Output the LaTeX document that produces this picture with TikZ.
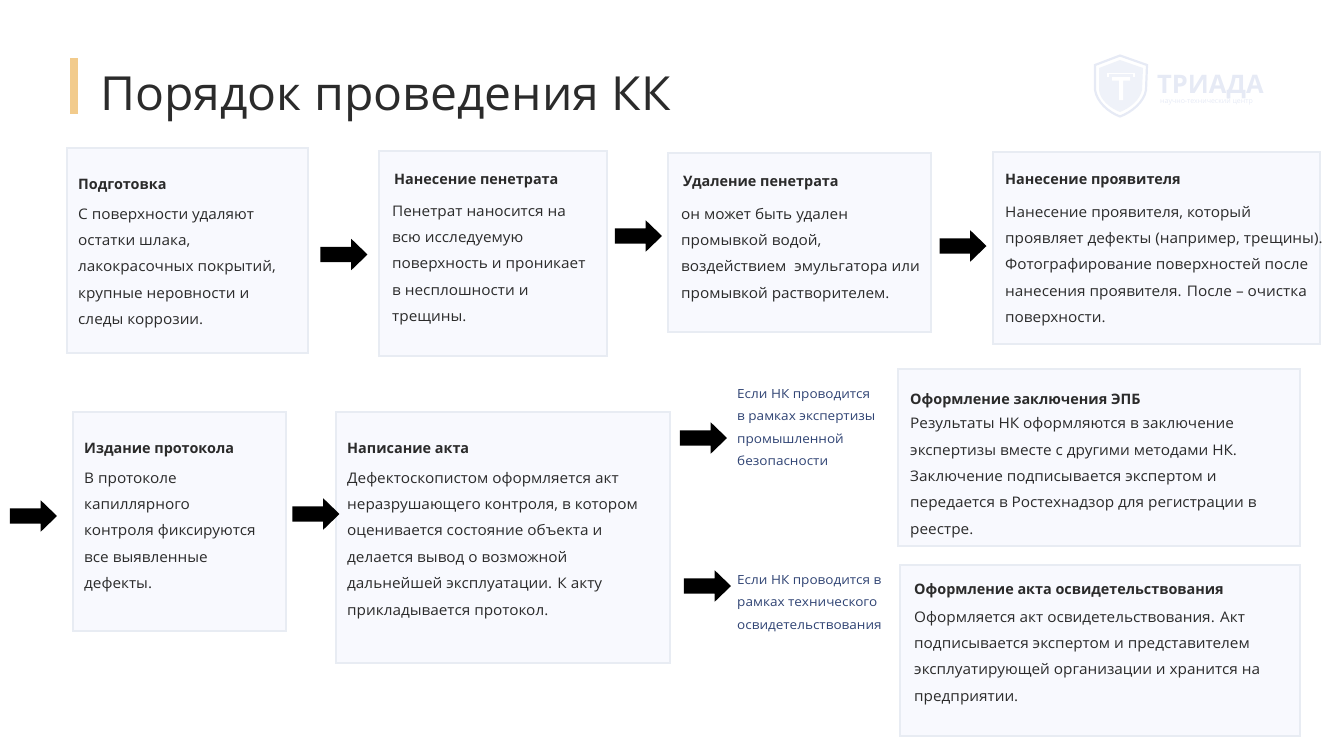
\documentclass[tikz,border=0pt]{standalone}
\usepackage{fontspec}
\setmainfont{Open Sans}
\newfontfamily\bodyfont[FakeStretch=1.05]{Open Sans}
\newfontfamily\sidefont[FakeStretch=1.075]{Open Sans}
\newfontfamily\titlefont[FakeStretch=1.023]{Open Sans}
\usetikzlibrary{shapes.arrows}
\definecolor{boxfill}{HTML}{F8F9FE}
\definecolor{boxline}{HTML}{E8ECF3}
\definecolor{ink}{HTML}{2B2B2B}
\definecolor{bluetext}{HTML}{2F4373}
\definecolor{barcol}{HTML}{F2CB8C}
\definecolor{logocol}{HTML}{E6EAF5}
\definecolor{logoin}{HTML}{EFF2F9}
\tikzset{
  card/.style={draw=boxline,fill=boxfill,line width=2pt},
  head/.style={anchor=base west,inner sep=0pt,text=ink,font={\fontsize{14.4}{17}\selectfont\bfseries}},
  body/.style={anchor=north west,inner sep=0pt,align=left,text=ink,font={\fontsize{14.6}{26.4}\bodyfont\selectfont}},
  side/.style={anchor=north west,inner sep=0pt,align=left,text=bluetext,font={\fontsize{12.6}{22.6}\sidefont\selectfont}},
  blockarrow/.style={shape=single arrow,fill=black,inner sep=0pt,text height=15pt,text depth=0pt,minimum height=47pt,single arrow head extend=8pt,single arrow tip angle=88,single arrow head indent=0pt},
}
\begin{document}
\begin{tikzpicture}[x=1pt,y=-1pt]
\useasboundingbox (0,0) rectangle (1335,748);
% logo
\draw[logocol,line width=2.2pt,fill=white] (1120,55.5) -- (1147,65) -- (1146,90) .. controls (1144,102) and (1132,112) .. (1120,116.5) .. controls (1108,112) and (1097,102) .. (1095,90) -- (1095,65) -- cycle;
\fill[logoin] (1120,60) -- (1143,68) -- (1142,90) .. controls (1140,100) and (1130,108) .. (1120,112) .. controls (1110,108) and (1100,100) .. (1099,90) -- (1099,68) -- cycle;
\draw[white,line width=1.6pt] (1108,77) -- (1108,73.5) -- (1134,73.5) -- (1134,77);
\fill[white] (1112,77) -- (1130,77) -- (1130,80.5) -- (1123,80.5) -- (1123,100) -- (1119,100) -- (1119,80.5) -- (1112,80.5) -- cycle;
\node[anchor=base west,inner sep=0pt,text=logocol,font={\fontsize{25.5}{27}\selectfont\bfseries}] (logotext) at (1157,93) {ТРИАДА};
\node[anchor=base west,inner sep=0pt,text=logocol,font={\fontsize{7}{8}\selectfont}] (logosub) at (1160,103) {научно-технический центр};
% title
\fill[barcol] (70,58) rectangle (78,114);
\node[anchor=base west,inner sep=0pt,text=ink,font={\fontsize{47}{50}\titlefont\selectfont}] (title) at (100,110) {Порядок проведения КК};
% cards
\draw[card] (67,148) rectangle (308,353);
\draw[card] (379,151) rectangle (607,356);
\draw[card] (668,153) rectangle (931,332);
\draw[card] (993,152) rectangle (1320,344);
\draw[card] (73,412) rectangle (286,631);
\draw[card] (336,412) rectangle (670,663);
\draw[card] (898,369) rectangle (1300,546);
\draw[card] (900,565) rectangle (1300,736);
% card 1
\node[head] (h1) at (78,189) {Подготовка};
\node[body] (b1) at (78,200.5) {\strut С поверхности удаляют\\остатки шлака,\\лакокрасочных покрытий,\\крупные неровности и\\следы коррозии.};
% card 2
\node[head] (h2) at (394,184) {Нанесение пенетрата};
\node[body] (b2) at (392,197.5) {\strut Пенетрат наносится на\\всю исследуемую\\поверхность и проникает\\в несплошности и\\трещины.};
% card 3
\node[head] (h3) at (683,186) {Удаление пенетрата};
\node[body] (b3) at (681,200.5) {\strut он может быть удален\\промывкой водой,\\воздействием\ \ эмульгатора или\\промывкой растворителем.};
% card 4
\node[head] (h4) at (1005,184) {Нанесение проявителя};
\node[body] (b4) at (1005,198.5) {\strut Нанесение проявителя, который\\проявляет дефекты (например, трещины).\\Фотографирование поверхностей после\\нанесения проявителя. После – очистка\\поверхности.};
% card 5
\node[head] (h5) at (84,453) {Издание протокола};
\node[body] (b5) at (84,464.5) {\strut В протоколе\\капиллярного\\контроля фиксируются\\все выявленные\\дефекты.};
% card 6
\node[head] (h6) at (347,453) {Написание акта};
\node[body] (b6) at (347,464.5) {\strut Дефектоскопистом оформляется акт\\неразрушающего контроля, в котором\\оценивается состояние объекта и\\делается вывод о возможной\\дальнейшей эксплуатации. К акту\\прикладывается протокол.};
% card 7
\node[head] (h7) at (910,404) {Оформление заключения ЭПБ};
\node[body] (b7) at (910,410) {\strut Результаты НК оформляются в заключение\\экспертизы вместе с другими методами НК.\\Заключение подписывается экспертом и\\передается в Ростехнадзор для регистрации в\\реестре.};
% card 8
\node[head] (h8) at (914,594) {Оформление акта освидетельствования};
\node[body] (b8) at (914,603.5) {\strut Оформляется акт освидетельствования. Акт\\подписывается экспертом и представителем\\эксплуатирующей организации и хранится на\\предприятии.};
% side labels
\node[side] (s1) at (737,382) {\strut Если НК проводится\\в рамках экспертизы\\промышленной\\безопасности};
\node[side] (s2) at (737,568) {\strut Если НК проводится в\\рамках технического\\освидетельствования};
% arrows
\node[blockarrow] (a1) at (340,254.5) {};
\node[blockarrow] (a2) at (634.5,236) {};
\node[blockarrow] (a3) at (959,246) {};
\node[blockarrow] (a4) at (29.5,516) {};
\node[blockarrow] (a5) at (312,514) {};
\node[blockarrow] (a6) at (699.5,438) {};
\node[blockarrow] (a7) at (703.5,586) {};
\end{tikzpicture}
\end{document}
